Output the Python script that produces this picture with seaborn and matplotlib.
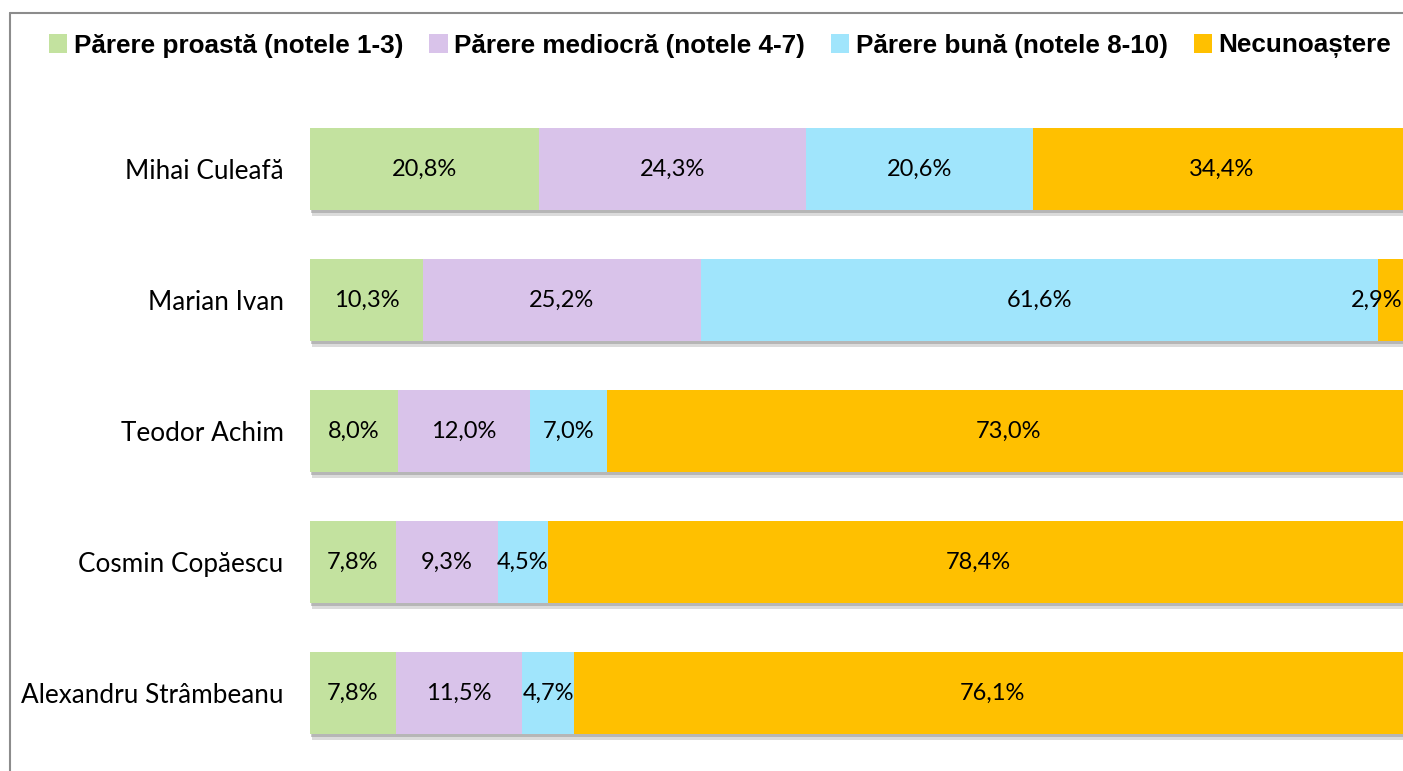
import matplotlib
matplotlib.use("Agg")
import matplotlib.pyplot as plt
import matplotlib.patheffects as pe
from matplotlib.patches import Patch
from matplotlib.lines import Line2D
import numpy as np
import seaborn as sns

# data
candidates = ["Mihai Culeafă", "Marian Ivan", "Teodor Achim", "Cosmin Copăescu", "Alexandru Strâmbeanu"]
series = ["Părere proastă (notele 1-3)", "Părere mediocră (notele 4-7)", "Părere bună (notele 8-10)", "Necunoaștere"]
proasta = [20.8, 10.3, 8.0, 7.8, 7.8]
mediocra = [24.3, 25.2, 12.0, 9.3, 11.5]
buna = [20.6, 61.6, 7.0, 4.5, 4.7]
necunoastere = [34.4, 2.9, 73.0, 78.4, 76.1]
colors = ["#C3E29F", "#D9C3EA", "#A0E5FC", "#FFC000"]

sns.set_theme(style="white")
plt.rcParams["font.family"] = ["Lato", "DejaVu Sans"]
plt.rcParams["text.color"] = "black"
plt.rcParams["ytick.color"] = "black"

fig = plt.figure(figsize=(14.03, 7.71), dpi=100)
W, H = 1403, 771
ax = fig.add_axes([310 / W, 1 - 758.5 / H, 1100 / W, 655 / H])

left = np.zeros(len(candidates))
labels = []
for vals, col in zip([proasta, mediocra, buna, necunoastere], colors):
    sns.barplot(x=vals, y=candidates, left=left, color=col, orient="h",
                width=0.626, ax=ax, linewidth=0, saturation=1)
    cont = ax.containers[-1]
    labels += ax.bar_label(cont, labels=[f"{v:.1f}%".replace(".", ",") for v in vals],
                           label_type="center", fontsize=17, color="black")
    left = left + np.array(vals)

# soft shadow under the bars
shadow = [pe.SimplePatchShadow(offset=(1.5, -4), shadow_rgbFace="#9a9a9a", alpha=0.35),
          pe.SimplePatchShadow(offset=(1, -2.5), shadow_rgbFace="#8a8a8a", alpha=0.45),
          pe.Normal()]
for p in ax.patches:
    p.set_path_effects(shadow)

ax.set_xlim(0, 100)
ax.set_xlabel("")
ax.set_ylabel("")
ax.set_xticks([])
ax.tick_params(axis="y", length=0, pad=19, labelsize=18.8, labelcolor="black")
for s in ax.spines.values():
    s.set_visible(False)

# legend
handles = [Patch(facecolor=c, edgecolor="none") for c in colors]
fig.legend(handles, series, loc="center left", bbox_to_anchor=(36 / W, 1 - 46 / H),
           ncol=4, frameon=False, handlelength=0.7, handleheight=0.7, handletextpad=0.25,
           columnspacing=1.0, borderpad=0, labelcolor="black",
           prop={"family": "Liberation Sans", "weight": "bold", "size": 18.8})

# outer chart border
fig.add_artist(Line2D([10 / W, 10 / W], [0, 1 - 13 / H], color="#8c8c8c", lw=1.5))
fig.add_artist(Line2D([10 / W, 1], [1 - 13 / H, 1 - 13 / H], color="#8c8c8c", lw=1.5))

# keep labels inside the picture, as the original does
fig.canvas.draw()
r = fig.canvas.get_renderer()
for t in labels:
    bb = t.get_window_extent(r)
    if bb.x1 > W - 1:
        dx = (W - 1 - bb.x1) * 72 / fig.dpi
        t.xyann = (t.xyann[0] + dx, t.xyann[1])

fig.savefig("out.png", dpi=100)
